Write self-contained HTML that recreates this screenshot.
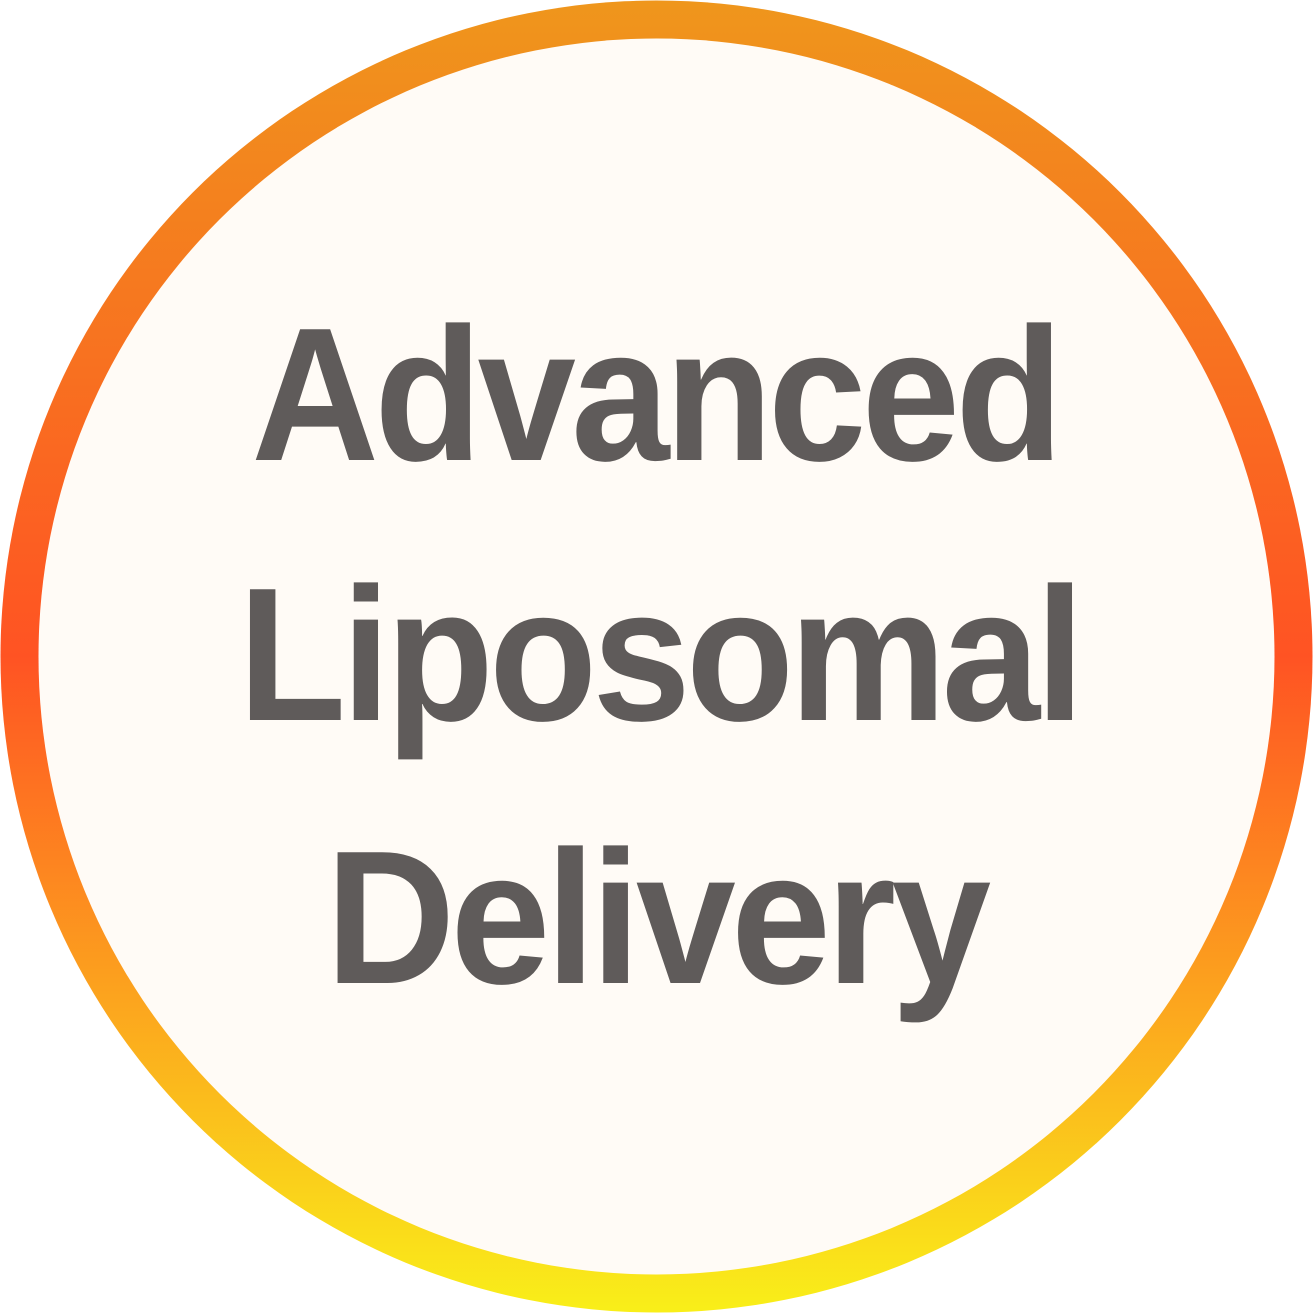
<!DOCTYPE html>
<html><head><meta charset="utf-8"><style>
html,body{margin:0;padding:0;background:#fff;}
svg{display:block;}
</style></head><body>
<svg width="1313" height="1313" viewBox="0 0 1313 1313" xmlns="http://www.w3.org/2000/svg">
<defs>
<linearGradient id="g" x1="0" y1="0" x2="0" y2="1">
<stop offset="0" stop-color="#EF961C"/>
<stop offset="0.5" stop-color="#FF5323"/>
<stop offset="1" stop-color="#F9EF19"/>
</linearGradient>
</defs>
<circle cx="656.5" cy="656.5" r="656" fill="url(#g)"/>
<circle cx="656.5" cy="656.5" r="618" fill="#FFFBF6"/>
<g font-family="Liberation Sans, sans-serif" font-weight="bold" font-size="190" fill="#5F5B5A" text-anchor="middle" letter-spacing="-5">
<text transform="translate(655,460) scale(0.93,1)">Advanced</text>
<text transform="translate(659,720) scale(0.93,1)">Liposomal</text>
<text transform="translate(656,983) scale(0.945,1)">Delivery</text>
</g>
</svg>
</body></html>
